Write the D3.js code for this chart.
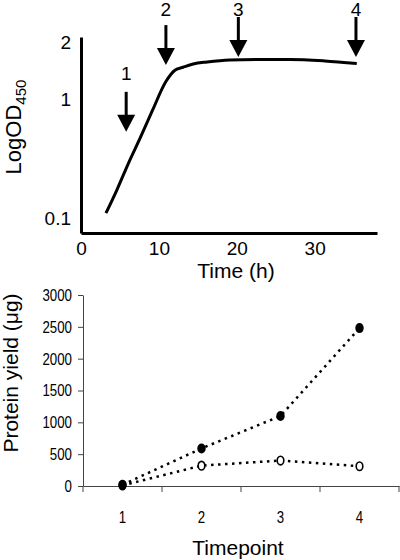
<!DOCTYPE html>
<html><head><meta charset="utf-8">
<script src="https://cdn.jsdelivr.net/npm/d3@7"></script>
<style>body{margin:0;background:#fff} svg{display:block}</style>
</head><body><svg id="c" width="400" height="560"></svg>
<script>
// ---- data: growth curve (top panel) ----
const growthTime = [3.2, 4.6, 6.1, 7.6, 9.2, 10.9, 12.1, 13.1, 14.4, 16.2, 19.1, 23.0, 26.8, 31.3, 35.4];
const growthOD   = [0.110, 0.172, 0.290, 0.471, 0.809, 1.24, 1.43, 1.48, 1.54, 1.58, 1.62, 1.63, 1.63, 1.60, 1.55];
const timeTicks = [0, 10, 20, 30];
const odTicks = [0.1, 1, 2];
const arrowTimes = [5.8, 10.9, 20.2, 35.3];
const arrowTipOD = [0.53, 1.52, 1.68, 1.68];
const arrowLabels = ["1", "2", "3", "4"];
// ---- data: protein yield (bottom panel) ----
const timepoints = ["1", "2", "3", "4"];
const yieldFilled = [20, 590, 1100, 2480];
const yieldOpen = [10, 320, 400, 310];
const yieldTicks = [0, 500, 1000, 1500, 2000, 2500, 3000];

const svg = d3.select("#c");
const sans = "'Liberation Sans', Arial, sans-serif";

// ================= TOP PANEL =================
const x = d3.scaleLinear().domain([0, 38]).range([81, 377]);
const y = d3.scaleLog().domain([0.075, 1, 2.15]).range([233, 99, 37]);

const gTop = svg.append("g");
const xAx = gTop.append("g").attr("transform", `translate(0,${y(0.075)})`)
  .call(d3.axisBottom(x).tickValues(timeTicks).tickSize(0).tickSizeOuter(0).tickPadding(9).tickFormat(d3.format("d")));
const yAx = gTop.append("g").attr("transform", `translate(${x(0)},0)`)
  .call(d3.axisLeft(y).tickValues(odTicks).tickSize(0).tickSizeOuter(0).tickPadding(10).tickFormat(d => String(d)));
[xAx, yAx].forEach(g => {
  g.select(".domain").attr("stroke", "#000").attr("stroke-width", 3);
  g.selectAll("text").attr("font-family", sans).attr("font-size", 19).attr("fill", "#000");
});

const growth = growthTime.map((t, i) => [t, growthOD[i]]);
gTop.append("path").datum(growth)
  .attr("fill", "none").attr("stroke", "#000").attr("stroke-width", 3)
  .attr("d", d3.line().x(d => x(d[0])).y(d => y(d[1])).curve(d3.curveMonotoneX));

// arrows
const arrowLen = 40, headH = 17, headW = 18;
arrowTimes.forEach((t, i) => {
  const ax = x(t), tip = y(arrowTipOD[i]), topY = tip - arrowLen;
  gTop.append("line").attr("x1", ax).attr("x2", ax).attr("y1", topY).attr("y2", tip - headH + 1)
    .attr("stroke", "#000").attr("stroke-width", 3);
  gTop.append("path")
    .attr("d", `M${ax - headW / 2},${tip - headH}L${ax + headW / 2},${tip - headH}L${ax},${tip}Z`)
    .attr("fill", "#000");
  gTop.append("text").attr("x", ax).attr("y", Math.max(16, topY - 12))
    .attr("text-anchor", "middle").attr("font-family", sans).attr("font-size", 19)
    .text(arrowLabels[i]);
});

gTop.append("text").attr("x", 236).attr("y", 278).attr("text-anchor", "middle")
  .attr("font-family", sans).attr("font-size", 21).text("Time (h)");
const yl = gTop.append("text").attr("transform", "translate(21,127) rotate(-90)")
  .attr("text-anchor", "middle").attr("font-family", sans).attr("font-size", 22);
yl.append("tspan").text("LogOD");
yl.append("tspan").attr("font-size", 15).attr("dy", 5).text("450");

// ================= BOTTOM PANEL =================
const xb = d3.scaleBand().domain(timepoints).range([83, 399]).padding(0);
const yb = d3.scaleLinear().domain([0, 3000]).range([486, 295]);
const gBot = svg.append("g");

const ybAx = gBot.append("g").attr("transform", `translate(${xb.range()[0]},0)`)
  .call(d3.axisLeft(yb).tickValues(yieldTicks).tickSizeInner(5).tickSizeOuter(0).tickPadding(6).tickFormat(d3.format("d")));
const xbAx = gBot.append("g").attr("transform", `translate(0,${yb(0)})`)
  .call(d3.axisBottom(xb).tickSize(0).tickSizeOuter(0).tickPadding(25));
[ybAx, xbAx].forEach(g => {
  g.select(".domain").attr("stroke", "#444").attr("stroke-width", 1);
  g.selectAll(".tick line").attr("stroke", "#444").attr("stroke-width", 1);
  g.selectAll("text").attr("font-family", sans).attr("font-size", 17).attr("fill", "#000")
    .each(function () {
      const len = this.getComputedTextLength();
      d3.select(this).attr("textLength", len * 0.78).attr("lengthAdjust", "spacingAndGlyphs");
    });
});
// category boundary ticks
const edges = timepoints.map(d => xb(d)).concat([xb.range()[1]]);
gBot.append("g").selectAll("line").data(edges).join("line")
  .attr("x1", d => d).attr("x2", d => d).attr("y1", yb(0)).attr("y2", yb(0) + 6)
  .attr("stroke", "#444").attr("stroke-width", 1);

const cx = d => xb(d) + xb.bandwidth() / 2;
const lineB = d3.line().x(d => cx(d[0])).y(d => yb(d[1]));
const filled = timepoints.map((d, i) => [d, yieldFilled[i]]);
const open = timepoints.map((d, i) => [d, yieldOpen[i]]);
[open, filled].forEach(s => {
  gBot.append("path").datum(s).attr("fill", "none").attr("stroke", "#000")
    .attr("stroke-width", 2.5).attr("stroke-dasharray", "2.5,4.5").attr("d", lineB);
});
gBot.append("g").selectAll("ellipse").data(open).join("ellipse")
  .attr("cx", d => cx(d[0])).attr("cy", d => yb(d[1])).attr("rx", 3.3).attr("ry", 4.3)
  .attr("fill", "#fff").attr("stroke", "#000").attr("stroke-width", 1.6);
gBot.append("g").selectAll("ellipse").data(filled).join("ellipse")
  .attr("cx", d => cx(d[0])).attr("cy", d => yb(d[1])).attr("rx", 4.2).attr("ry", 5)
  .attr("fill", "#000");

gBot.append("text").attr("x", 238).attr("y", 555).attr("text-anchor", "middle")
  .attr("font-family", sans).attr("font-size", 21).text("Timepoint");
gBot.append("text").attr("transform", "translate(18,373) rotate(-90)")
  .attr("text-anchor", "middle").attr("font-family", sans).attr("font-size", 21)
  .text("Protein yield (μg)");
</script></body></html>
